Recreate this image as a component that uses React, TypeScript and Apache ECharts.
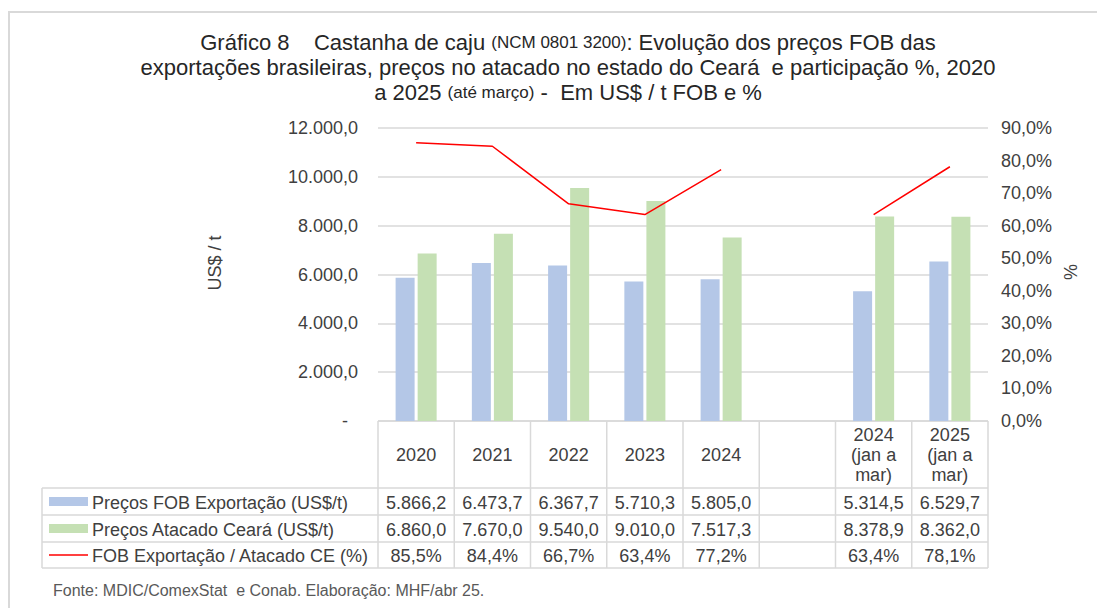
import React, { useEffect, useRef } from "react";
import * as echarts from "echarts";

const categories = ["2020", "2021", "2022", "2023", "2024", "", "2024\n(jan a\nmar)", "2025\n(jan a\nmar)"];
const fobPrices = [5866.2, 6473.7, 6367.7, 5710.3, 5805.0, null, 5314.5, 6529.7];
const atacadoPrices = [6860.0, 7670.0, 9540.0, 9010.0, 7517.3, null, 8378.9, 8362.0];
const ratioPct = [85.5, 84.4, 66.7, 63.4, 77.2, null, 63.4, 78.1];
const seriesNames = ["Preços FOB Exportação (US$/t)", "Preços Atacado Ceará (US$/t)", "FOB Exportação / Atacado CE (%)"];
const leftTicks = { min: 0, max: 12000, interval: 2000 };
const rightTicks = { min: 0, max: 90, interval: 10 };

const FONT = '"Liberation Sans", Arial, sans-serif';
const TXT = "#404040";
const GRID_C = "#d9d9d9";
const BLUE = "#b4c7e7";
const GREEN = "#c5e0b4";
const RED = "#ff0000";

const W = 1097, H = 608;
const G_LEFT = 378, G_RIGHT = 988, G_TOP = 128, G_BOTTOM = 421;

const fmtNum = (v: number) => {
  const [i, d] = v.toFixed(1).split(".");
  return i.replace(/\B(?=(\d{3})+(?!\d))/g, ".") + "," + d;
};
const fmtPct = (v: number) => v.toFixed(1).replace(".", ",") + "%";

export default function App() {
  const ref = useRef<HTMLDivElement>(null);
  useEffect(() => {
    if (!ref.current) return;
    const chart = echarts.init(ref.current, null, { renderer: "svg" });
    const n = categories.length;
    const colW = (G_RIGHT - G_LEFT) / n;
    const rowY = [G_BOTTOM, 488, 515, 542, 568];
    const TBL_LEFT = 42;
    const g: any[] = [];
    const line = (x1: number, y1: number, x2: number, y2: number) =>
      g.push({ type: "line", silent: true, shape: { x1, y1, x2, y2 }, style: { stroke: GRID_C, lineWidth: 1.5 } });
    // outer frame
    g.push({ type: "rect", silent: true, shape: { x: 9, y: 12, width: 1300, height: 800 }, style: { fill: "none", stroke: GRID_C, lineWidth: 2 } });
    // table lines
    line(G_LEFT, rowY[0], G_RIGHT, rowY[0]);
    for (let r = 1; r < rowY.length; r++) line(TBL_LEFT, rowY[r], G_RIGHT, rowY[r]);
    for (let i = 0; i <= n; i++) line(G_LEFT + i * colW, rowY[0], G_LEFT + i * colW, rowY[4]);
    line(TBL_LEFT, rowY[1], TBL_LEFT, rowY[4]);
    const txt = (text: string, x: number, y: number, align: string, extra: any = {}) =>
      g.push({
        type: "text", silent: true, x, y,
        style: { text, fill: TXT, fontSize: 18, fontFamily: FONT, align, verticalAlign: "middle", ...extra },
      });
    const rows = [fobPrices, atacadoPrices, ratioPct];
    for (let i = 0; i < n; i++) {
      const cx = G_LEFT + (i + 0.5) * colW;
      txt(categories[i], cx, (rowY[0] + rowY[1]) / 2, "center", { lineHeight: 20 });
      rows.forEach((arr, r) => {
        const v = arr[i];
        if (v == null) return;
        txt(r === 2 ? fmtPct(v) : fmtNum(v), cx, (rowY[r + 1] + rowY[r + 2]) / 2 + 1, "center");
      });
    }
    seriesNames.forEach((name, r) => {
      const cy = (rowY[r + 1] + rowY[r + 2]) / 2;
      if (r < 2) {
        g.push({ type: "rect", silent: true, shape: { x: 49, y: cy - 4.5, width: 39, height: 9 }, style: { fill: r === 0 ? BLUE : GREEN } });
      } else {
        g.push({ type: "line", silent: true, shape: { x1: 49, y1: cy, x2: 88, y2: cy }, style: { stroke: RED, lineWidth: 1.5 } });
      }
      txt(name, 92, cy + 1, "left");
    });
    // axis titles
    g.push({ type: "text", silent: true, x: 215, y: 263, rotation: Math.PI / 2,
      style: { text: "US$ / t", fill: TXT, fontSize: 18, fontFamily: FONT, align: "center", verticalAlign: "middle" } });
    g.push({ type: "text", silent: true, x: 1071, y: 272, rotation: Math.PI / 2,
      style: { text: "%", fill: TXT, fontSize: 18, fontFamily: FONT, align: "center", verticalAlign: "middle" } });
    // footer
    g.push({ type: "text", silent: true, x: 53, y: 590,
      style: { text: "Fonte: MDIC/ComexStat  e Conab. Elaboração: MHF/abr 25.", fill: "#595959", fontSize: 16, fontFamily: FONT, align: "left", verticalAlign: "middle" } });

    chart.setOption({
      animation: false,
      backgroundColor: "#ffffff",
      title: {
        text:
          "{a|Gráfico 8    Castanha de caju }{b|(NCM 0801 3200)}{a|: Evolução dos preços FOB das}\n" +
          "{a|exportações brasileiras, preços no atacado no estado do Ceará  e participação %, 2020}\n" +
          "{a|a 2025 }{b|(até março)}{a| -  Em US$ / t FOB e %}",
        left: 563,
        top: 25,
        textAlign: "center",
        textStyle: {
          fontWeight: "normal",
          rich: {
            a: { fontSize: 22, fontFamily: FONT, color: "#262626", lineHeight: 25, fontWeight: "normal" },
            b: { fontSize: 17, fontFamily: FONT, color: "#262626", lineHeight: 25, fontWeight: "normal" },
          },
        },
      },
      grid: { left: G_LEFT, right: W - G_RIGHT, top: G_TOP, bottom: H - G_BOTTOM, containLabel: false },
      xAxis: {
        type: "category",
        data: categories,
        axisLine: { show: false },
        axisTick: { show: false },
        axisLabel: { show: false },
      },
      yAxis: [
        {
          type: "value",
          ...leftTicks,
          axisLine: { show: false },
          axisTick: { show: false },
          splitLine: { lineStyle: { color: GRID_C, width: 1.5 } },
          axisLabel: {
            margin: 20,
            color: TXT,
            fontSize: 18,
            fontFamily: FONT,
            formatter: (v: number) => (v === 0 ? "-  " : fmtNum(v)),
          },
        },
        {
          type: "value",
          position: "right",
          ...rightTicks,
          axisLine: { show: false },
          axisTick: { show: false },
          splitLine: { show: false },
          axisLabel: { margin: 13, color: TXT, fontSize: 18, fontFamily: FONT, formatter: (v: number) => fmtPct(v) },
        },
      ],
      series: [
        { name: seriesNames[0], type: "bar", data: fobPrices, barWidth: 19, barGap: "16%", itemStyle: { color: BLUE } },
        { name: seriesNames[1], type: "bar", data: atacadoPrices, barWidth: 19, barGap: "16%", itemStyle: { color: GREEN } },
        {
          name: seriesNames[2], type: "line", yAxisIndex: 1, data: ratioPct, symbol: "none", connectNulls: false,
          lineStyle: { color: RED, width: 1.5 }, z: 5,
        },
      ],
      graphic: g,
    });
    return () => chart.dispose();
  }, []);
  return <div ref={ref} style={{ position: "fixed", left: 0, top: 0, width: W, height: H }} />;
}
